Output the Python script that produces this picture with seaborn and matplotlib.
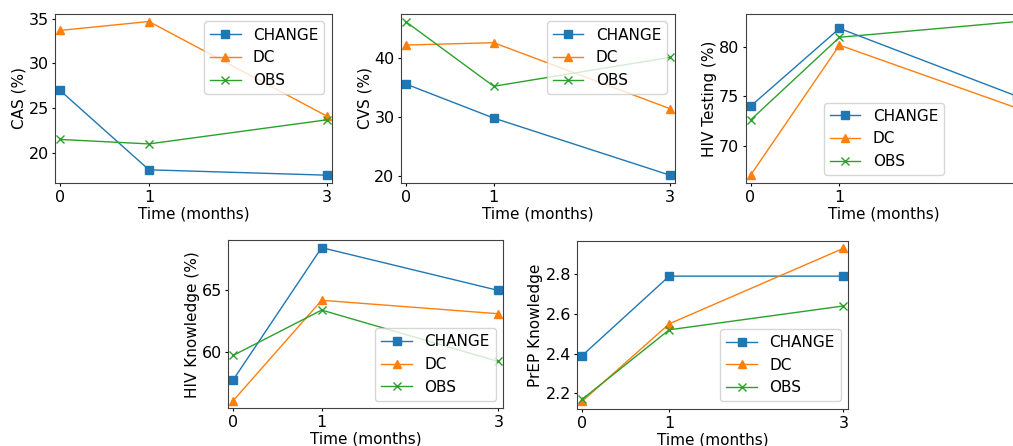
import numpy as np
import pandas as pd
import matplotlib
matplotlib.use("Agg")
import matplotlib.pyplot as plt
import seaborn as sns

# time points and groups
months = [0, 1, 3]
groups = ["CHANGE", "DC", "OBS"]

# values, one list per group
cas_change = [27.0, 18.1, 17.5]
cas_dc = [33.7, 34.7, 24.1]
cas_obs = [21.5, 21.0, 23.7]

cvs_change = [35.6, 29.8, 20.1]
cvs_dc = [42.2, 42.6, 31.4]
cvs_obs = [46.2, 35.2, 40.1]

test_change = [74.0, 81.9, 75.0]
test_dc = [67.0, 80.2, 73.8]
test_obs = [72.6, 81.0, 82.6]

know_change = [57.7, 68.5, 65.0]
know_dc = [56.0, 64.2, 63.1]
know_obs = [59.7, 63.4, 59.2]

prep_change = [2.39, 2.79, 2.79]
prep_dc = [2.16, 2.55, 2.93]
prep_obs = [2.17, 2.52, 2.64]

cas_ticks = [20, 25, 30, 35]
cvs_ticks = [20, 30, 40]
test_ticks = [70, 75, 80]
know_ticks = [60, 65]
prep_ticks = [2.2, 2.4, 2.6, 2.8]

plt.rcParams['font.family'] = ['DejaVu Sans']
plt.rcParams['font.size'] = 11
plt.rcParams['xtick.labelsize'] = 11.5
plt.rcParams['ytick.labelsize'] = 11.5
plt.rcParams['xtick.major.size'] = 2.5
plt.rcParams['ytick.major.size'] = 2.5
plt.rcParams['xtick.major.pad'] = 2.5
plt.rcParams['ytick.major.pad'] = 2
plt.rcParams['axes.edgecolor'] = '0.25'

colors = ["#1f77b4", "#ff7f0e", "#2ca02c"]
markers = ["s", "^", "x"]

fig = plt.figure(figsize=(10.13, 4.46), dpi=100)

# axes rectangles (the third panel runs off the right edge like the original)
rects = [
    [0.0543, 0.590, 0.2734, 0.379],
    [0.3956, 0.590, 0.2705, 0.379],
    [0.7361, 0.590, 0.2730, 0.379],
    [0.2254, 0.0845, 0.2715, 0.3774],
    [0.5699, 0.083, 0.2675, 0.3774],
]

panels = [
    ("CAS (%)", [cas_change, cas_dc, cas_obs], cas_ticks, "upper right"),
    ("CVS (%)", [cvs_change, cvs_dc, cvs_obs], cvs_ticks, "upper right"),
    ("HIV Testing (%)", [test_change, test_dc, test_obs], test_ticks, "lower center"),
    ("HIV Knowledge (%)", [know_change, know_dc, know_obs], know_ticks, "lower right"),
    ("PrEP Knowledge", [prep_change, prep_dc, prep_obs], prep_ticks, "lower right"),
]

for rect, (ylab, series, yticks, loc) in zip(rects, panels):
    ax = fig.add_axes(rect)
    for name, vals, c, m in zip(groups, series, colors, markers):
        df = pd.DataFrame({"month": months, "value": vals})
        sns.lineplot(data=df, x="month", y="value", ax=ax, color=c, marker=m,
                     markersize=6, linewidth=1.0, label=name,
                     markeredgecolor=c, markeredgewidth=1.0)
    ax.set_xlim(-0.055, 3.055)
    ax.set_xticks(months)
    ax.set_yticks(yticks)
    ax.set_xlabel("Time (months)", labelpad=1)
    ax.set_ylabel(ylab, labelpad=1.5)
    ax.legend(loc=loc, fontsize=11)

fig.savefig("out.png", dpi=100)
